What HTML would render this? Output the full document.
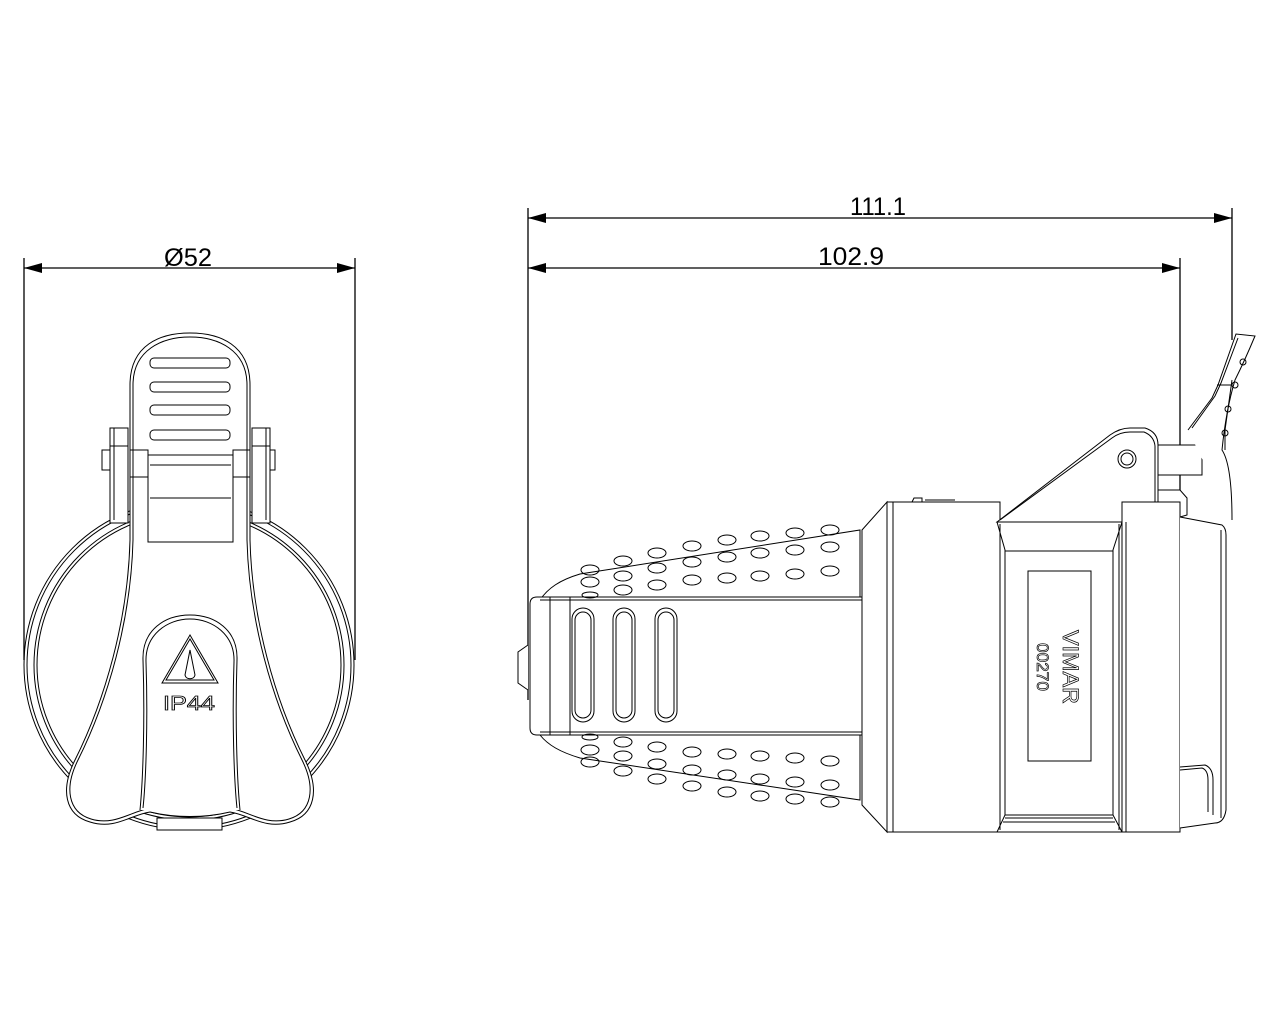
<!DOCTYPE html>
<html><head><meta charset="utf-8"><style>html,body{margin:0;padding:0;background:#fff}svg{display:block}</style></head>
<body>
<svg width="1280" height="1024" viewBox="0 0 1280 1024" xmlns="http://www.w3.org/2000/svg" fill="none" stroke="#000" stroke-width="1.2">
<!-- dimensions -->
<g stroke-width="1.3">
<line x1="24" y1="258" x2="24" y2="660"/>
<line x1="355" y1="258" x2="355" y2="660"/>
<line x1="24" y1="268" x2="355" y2="268"/>
<line x1="528" y1="208" x2="528" y2="700"/>
<line x1="1232" y1="208" x2="1232" y2="340"/>
<line x1="1180" y1="258" x2="1180" y2="517"/>
<line x1="528" y1="218" x2="1232" y2="218"/>
<line x1="528" y1="268" x2="1180" y2="268"/>
</g>
<g fill="#000" stroke="none">
<path d="M24 268 L42 263 L42 273 Z"/><path d="M355 268 L337 263 L337 273 Z"/>
<path d="M528 218 L546 213 L546 223 Z"/><path d="M1232 218 L1214 213 L1214 223 Z"/>
<path d="M528 268 L546 263 L546 273 Z"/><path d="M1180 268 L1162 263 L1162 273 Z"/>
</g>
<g fill="#000" stroke="none" font-family="Liberation Sans, sans-serif" font-size="25">
<text x="164" y="266" textLength="48" lengthAdjust="spacingAndGlyphs">Ø52</text>
<text x="850" y="215" textLength="56" lengthAdjust="spacingAndGlyphs">111.1</text>
<text x="818" y="265" textLength="66" lengthAdjust="spacingAndGlyphs">102.9</text>
</g>

<!-- FRONT VIEW -->
<g stroke-width="1">
<circle cx="189" cy="665" r="165"/>
<circle cx="189" cy="665" r="162"/>
<circle cx="189" cy="665" r="155"/>
<circle cx="189" cy="665" r="152"/>
<rect x="157" y="818" width="65" height="12" fill="#fff"/>
<!-- hinge posts -->
<rect x="110" y="428" width="18" height="95" fill="#fff"/>
<line x1="114" y1="428" x2="114" y2="520"/><line x1="110" y1="446" x2="128" y2="446"/>
<rect x="252" y="428" width="18" height="95" fill="#fff"/>
<line x1="266" y1="428" x2="266" y2="520"/><line x1="252" y1="446" x2="270" y2="446"/>
<rect x="102" y="450" width="8" height="20" fill="#fff"/>
<rect x="270" y="450" width="5" height="20" fill="#fff"/>
<!-- body -->
<path d="M130 450 L130 540 C128 620 105 700 75 760 C60 790 65 815 90 822 C115 830 130 815 150 812 C175 818 205 818 230 812 C250 815 265 830 290 822 C315 815 320 790 305 760 C275 700 252 620 250 540 L250 450 Z" fill="#fff"/>
<path d="M133 455 L133 540 C131 620 108 700 78 760 C64 788 68 812 91 819 C114 826 130 812 150 808 M247 455 L247 540 C249 620 272 700 302 760 C316 788 312 812 289 819 C266 826 250 812 230 808"/>
<path d="M140 810 C143 780 145 720 143 660 C142 630 165 615 190 615 C215 615 238 630 237 660 C235 720 237 780 240 810" fill="#fff"/>
<path d="M143 808 C146 780 148 720 146 662 C145 635 167 619 190 619 C213 619 235 635 234 662 C232 720 234 780 237 808"/>
<!-- tab top -->
<path d="M130 455 L130 385 C130 345 160 333 190 333 C220 333 250 345 250 385 L250 455" fill="#fff"/>
<path d="M133 455 L133 385 C133 350 162 337 190 337 C218 337 247 350 247 385 L247 455"/>
<g fill="#fff">
<rect x="150" y="358" width="80" height="10" rx="4"/><rect x="150" y="382" width="80" height="10" rx="4"/>
<rect x="150" y="405" width="80" height="10" rx="4"/><rect x="150" y="430" width="80" height="10" rx="4"/>
</g>
<path d="M130 450 L148 450 L148 542 L233 542 L233 450 L250 450" fill="#fff"/>
<line x1="148" y1="455" x2="233" y2="455"/><line x1="150" y1="465" x2="231" y2="465"/><line x1="150" y1="498" x2="231" y2="498"/>
<line x1="130" y1="477" x2="148" y2="477"/><line x1="233" y1="477" x2="250" y2="477"/>
<!-- IP44 -->
<path d="M162 683 L190 635 L218 683 Z"/><path d="M166 680 L190 639 L214 680 Z"/>
<path d="M190 650 L185 675 C186 680 194 680 195 675 Z"/>
</g>
<text x="163" y="710" font-family="Liberation Sans, sans-serif" font-size="20" fill="#fff" stroke="#000" stroke-width="0.8" textLength="52" lengthAdjust="spacingAndGlyphs">IP44</text>

<!-- SIDE VIEW -->
<g stroke-width="1">
<!-- grip ribbed shells -->
<path d="M540 600 C548 588 560 580 580 574 L860 530 L860 600 Z" fill="#fff"/>
<path d="M540 735 C548 745 560 752 580 758 L860 800 L860 735 Z" fill="#fff"/>
<!-- center band -->
<path d="M530 604 Q530 597 537 597 L862 597 L862 735 L537 735 Q530 735 530 728 Z" fill="#fff"/>
<line x1="540" y1="600" x2="862" y2="600"/><line x1="540" y1="732" x2="862" y2="732"/>
<line x1="550" y1="597" x2="550" y2="735"/><line x1="570" y1="597" x2="570" y2="735"/>
<path d="M528 645 L518 652 L518 683 L528 690" fill="#fff"/>
<g fill="#fff">
<rect x="572" y="608" width="22" height="114" rx="11"/><rect x="613" y="608" width="22" height="114" rx="11"/><rect x="655" y="608" width="22" height="114" rx="11"/>
</g>
<rect x="575" y="612" width="16" height="106" rx="8"/><rect x="616" y="612" width="16" height="106" rx="8"/><rect x="658" y="612" width="16" height="106" rx="8"/>
<g id="dots">
<ellipse cx="590" cy="570" rx="9" ry="5"/><ellipse cx="590" cy="582" rx="9" ry="5"/><ellipse cx="590" cy="595" rx="8" ry="3"/>
<ellipse cx="623" cy="561" rx="9" ry="5"/><ellipse cx="623" cy="576" rx="9" ry="5"/><ellipse cx="623" cy="590" rx="9" ry="5"/>
<ellipse cx="657" cy="553" rx="9" ry="5"/><ellipse cx="657" cy="568" rx="9" ry="5"/><ellipse cx="657" cy="585" rx="9" ry="5"/>
<ellipse cx="692" cy="546" rx="9" ry="5"/><ellipse cx="692" cy="562" rx="9" ry="5"/><ellipse cx="692" cy="580" rx="9" ry="5"/>
<ellipse cx="727" cy="540" rx="9" ry="5"/><ellipse cx="727" cy="557" rx="9" ry="5"/><ellipse cx="727" cy="578" rx="9" ry="5"/>
<ellipse cx="760" cy="536" rx="9" ry="5"/><ellipse cx="760" cy="553" rx="9" ry="5"/><ellipse cx="760" cy="576" rx="9" ry="5"/>
<ellipse cx="795" cy="533" rx="9" ry="5"/><ellipse cx="795" cy="550" rx="9" ry="5"/><ellipse cx="795" cy="574" rx="9" ry="5"/>
<ellipse cx="830" cy="530" rx="9" ry="5"/><ellipse cx="830" cy="547" rx="9" ry="5"/><ellipse cx="830" cy="571" rx="9" ry="5"/>
</g>
<use href="#dots" transform="translate(0,1332) scale(1,-1)"/>
<!-- collar -->
<path d="M862 530 L887 502 L887 832 L862 805 Z" fill="#fff"/>
<rect x="887" y="502" width="113" height="330" fill="#fff"/>
<line x1="893" y1="502" x2="893" y2="832"/>
<path d="M912 502 L914 498 L922 498 L922 502 M925 500 L955 500" />
<!-- hinge arm -->
<path d="M997 522 L1110 435 Q1120 428 1130 428 L1145 428 Q1158 432 1158 445 L1158 522 Z" fill="#fff"/>
<path d="M1000 520 L1112 438 Q1120 432 1130 432 L1144 432 Q1154 436 1155 446 L1155 522"/>
<circle cx="1127" cy="459" r="9"/><circle cx="1127" cy="459" r="6"/>
<rect x="1158" y="445" width="44" height="30" fill="#fff"/>
<path d="M1158 490 L1180 490 L1187 498 L1187 515 L1180 517" fill="#fff"/>
<!-- mid body -->
<path d="M997 522 L1005 550 L1005 815 L997 832 L1122 832 L1113 815 L1113 550 L1122 522 Z" fill="#fff"/>
<line x1="1005" y1="551" x2="1113" y2="551"/><line x1="1005" y1="815" x2="1113" y2="815"/>
<line x1="1005" y1="818" x2="1113" y2="818"/><line x1="1003" y1="822" x2="1115" y2="822"/>
<line x1="1000" y1="524" x2="1000" y2="830"/><line x1="1119" y1="524" x2="1119" y2="830"/>
<rect x="1028" y="571" width="63" height="190"/>
<rect x="1122" y="502" width="58" height="330" fill="#fff"/>
<line x1="1126" y1="522" x2="1126" y2="832"/>
<!-- front cap -->
<path d="M1180 517 L1222 525 Q1226 528 1226 535 L1226 810 Q1224 823 1215 823 L1180 828" fill="#fff"/>
<line x1="1221" y1="530" x2="1221" y2="818"/>
<path d="M1180 767 L1205 765 Q1213 768 1213 780 L1213 815"/>
<path d="M1180 770 L1202 768 Q1208 770 1208 780 L1208 812"/>
<!-- lever -->
<path d="M1188 430 L1212 398 L1218 385 L1236 334 L1255 336 Q1245 360 1235 380 Q1226 410 1222 450 Q1232 465 1232 520" fill="#fff"/>
<path d="M1192 428 L1215 396 L1221 383 L1238 338 M1217 385 L1232 385 M1232 380 L1225 430 L1225 450"/>
<circle cx="1243" cy="362" r="3"/><circle cx="1235" cy="385" r="3"/><circle cx="1228" cy="409" r="3"/><circle cx="1225" cy="433" r="3"/>
</g>
<g font-family="Liberation Sans, sans-serif" fill="#fff" stroke="#000" stroke-width="0.7">
<text transform="translate(1063,630) rotate(90)" font-size="22" textLength="74" lengthAdjust="spacingAndGlyphs">VIMAR</text>
<text transform="translate(1037,643) rotate(90)" font-size="17" textLength="48" lengthAdjust="spacingAndGlyphs">00270</text>
</g>
</svg>
</body></html>
